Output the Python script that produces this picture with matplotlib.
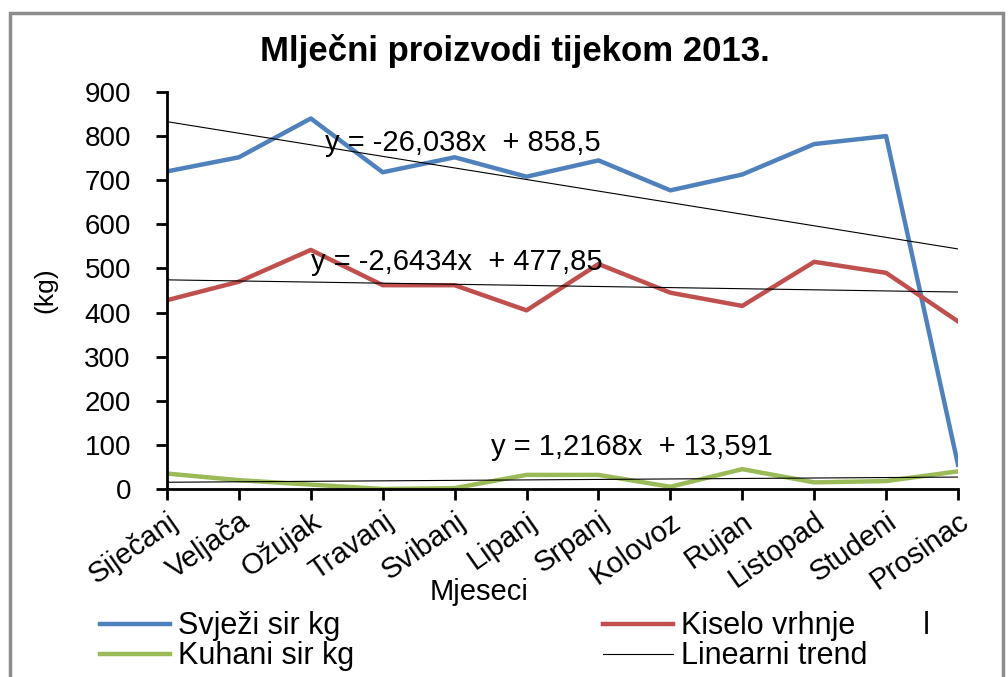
import numpy as np
import matplotlib
matplotlib.use("Agg")
import matplotlib.pyplot as plt
from matplotlib.patches import Rectangle
from matplotlib.transforms import ScaledTranslation

plt.rcParams['font.family'] = ['Liberation Sans', 'DejaVu Sans']

# Podaci
mjeseci = ['Siječanj', 'Veljača', 'Ožujak', 'Travanj', 'Svibanj', 'Lipanj',
           'Srpanj', 'Kolovoz', 'Rujan', 'Listopad', 'Studeni', 'Prosinac']
svjezi_sir = [720, 752, 840, 718, 752, 708, 745, 677, 713, 782, 800, 55]
kiselo_vrhnje = [428, 470, 542, 462, 462, 405, 510, 445, 415, 515, 490, 380]
kuhani_sir = [35, 20, 10, 0, 2, 32, 32, 5, 45, 15, 18, 40]
jednadzbe = ['y = -26,038x  + 858,5', 'y = -2,6434x  + 477,85', 'y = 1,2168x  + 13,591']

plava = '#4F81BD'
crvena = '#C0504D'
zelena = '#9BBB59'

x = np.arange(1, len(mjeseci) + 1)

fig = plt.figure(figsize=(10.08, 6.77), dpi=100)
ax = fig.add_axes([167 / 1008, 1 - 489 / 677, 791 / 1008, 397 / 677])

# okvir grafikona
fig.patches.append(Rectangle((10 / 1008, -0.05), 993 / 1008, 1.05 - 13 / 677,
                             transform=fig.transFigure, fill=False,
                             edgecolor='#8c8c8c', linewidth=2.5))

l1, = ax.plot(x, svjezi_sir, color=plava, lw=3.2, label='Svježi sir kg')
l2, = ax.plot(x, kiselo_vrhnje, color=crvena, lw=3.2, label='Kiselo vrhnje        l')
l3, = ax.plot(x, kuhani_sir, color=zelena, lw=3.2, label='Kuhani sir kg')

# linearni trend
trend = None
for serija in (svjezi_sir, kiselo_vrhnje, kuhani_sir):
    k, b = np.polyfit(x, serija, 1)
    trend, = ax.plot(x, k * x + b, color='black', lw=0.8, label='Linearni trend')

ax.text(3.2, 785, jednadzbe[0], fontsize=21, va='center')
ax.text(3.0, 515, jednadzbe[1], fontsize=21, va='center')
ax.text(5.5, 95, jednadzbe[2], fontsize=21, va='center')

ax.set_xlim(1, 12)
ax.set_ylim(0, 900)
ax.set_yticks(range(0, 901, 100))
ax.set_xticks(x)
ax.set_xticklabels(mjeseci, rotation=35, ha='right', va='top', rotation_mode='anchor')
pomak = ScaledTranslation(0.10, 0, fig.dpi_scale_trans)
for lab in ax.get_xticklabels():
    lab.set_transform(lab.get_transform() + pomak)
ax.tick_params(axis='both', length=8, width=2, direction='out')
ax.tick_params(axis='y', labelsize=20, pad=18)
ax.tick_params(axis='x', labelsize=21, pad=5)
for s in ('top', 'right'):
    ax.spines[s].set_visible(False)
for s in ('left', 'bottom'):
    ax.spines[s].set_linewidth(2)

fig.text(0.511, 0.924, 'Mlječni proizvodi tijekom 2013.', fontsize=25,
         fontweight='bold', ha='center', va='center')
ax.set_xlabel('Mjeseci', fontsize=21)
ax.xaxis.set_label_coords(0.395, -0.225)
ax.set_ylabel('(kg)', fontsize=19)
ax.yaxis.set_label_coords(-0.138, 0.5)

leg1 = fig.legend(handles=[l1, l3], loc='upper left', bbox_to_anchor=(100 / 1008, 0.097),
                  frameon=False, fontsize=22, handlelength=2.3, handletextpad=0.25,
                  labelspacing=0.0, borderpad=0, borderaxespad=0)
leg2 = fig.legend(handles=[l2, trend], loc='upper left', bbox_to_anchor=(603 / 1008, 0.097),
                  frameon=False, fontsize=22, handlelength=2.3, handletextpad=0.25,
                  labelspacing=0.0, borderpad=0, borderaxespad=0)

fig.savefig('out.png', dpi=100)
